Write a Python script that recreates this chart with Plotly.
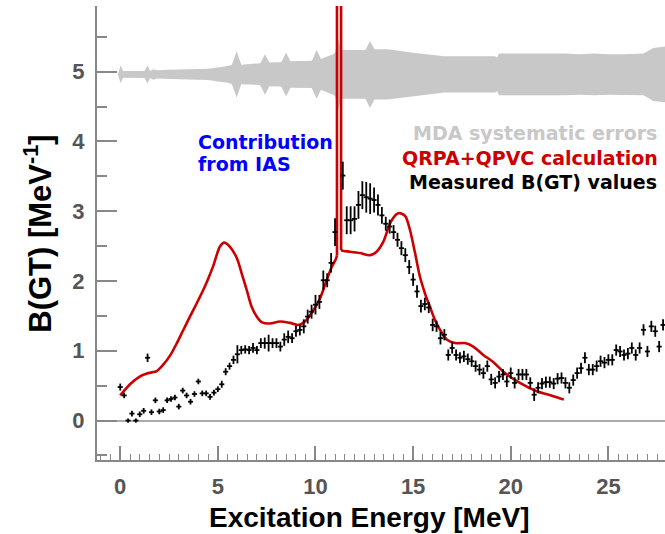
import plotly.graph_objects as go
import numpy as np

# ---------------- data ----------------
meas_E = [0.0, 0.2, 0.4, 0.6, 0.8, 1.0, 1.2, 1.4, 1.6, 1.8,
          2.0, 2.2, 2.4, 2.6, 2.8, 3.0, 3.2, 3.4, 3.6, 3.8,
          4.0, 4.2, 4.4, 4.6, 4.8, 5.0, 5.2, 5.4, 5.6, 5.8,
          6.0, 6.2, 6.4, 6.6, 6.8, 7.0, 7.2, 7.4, 7.6, 7.8,
          8.0, 8.2, 8.4, 8.6, 8.8, 9.0, 9.2, 9.4, 9.6, 9.8,
          10.0, 10.2, 10.4, 10.6, 10.8, 11.0, 11.4, 11.6, 11.8,
          12.0, 12.2, 12.4, 12.6, 12.8, 13.0, 13.2, 13.4, 13.6, 13.8,
          14.0, 14.2, 14.4, 14.6, 14.8, 15.0, 15.2, 15.4, 15.6, 15.8,
          16.0, 16.2, 16.4, 16.6, 16.8, 17.0, 17.2, 17.4, 17.6, 17.8,
          18.0, 18.2, 18.4, 18.6, 18.8, 19.0, 19.2, 19.4, 19.6, 19.8,
          20.0, 20.2, 20.4, 20.6, 20.8, 21.0, 21.2, 21.4, 21.6, 21.8,
          22.0, 22.2, 22.4, 22.6, 22.8, 23.0, 23.2, 23.4, 23.6, 23.8,
          24.0, 24.2, 24.4, 24.6, 24.8, 25.0, 25.2, 25.4, 25.6, 25.8,
          26.0, 26.2, 26.4, 26.6, 26.8, 27.0, 27.2, 27.4, 27.6, 27.8]
meas_B = [0.48, 0.36, 0.00, 0.10, 0.00, 0.09, 0.14, 0.90, 0.12, 0.29,
          0.13, 0.15, 0.29, 0.31, 0.33, 0.20, 0.43, 0.36, 0.27, 0.38,
          0.56, 0.39, 0.39, 0.34, 0.40, 0.45, 0.52, 0.70, 0.78, 0.87,
          0.95, 1.01, 1.02, 1.01, 1.04, 1.01, 1.11, 1.11, 1.11, 1.11,
          1.11, 1.06, 1.16, 1.20, 1.18, 1.28, 1.30, 1.35, 1.49, 1.56,
          1.66, 1.70, 2.01, 2.01, 2.26, 2.70, 3.51, 2.87, 2.87,
          2.89, 3.09, 3.23, 3.20, 3.18, 3.16, 3.09, 2.94, 2.82, 2.78,
          2.70, 2.59, 2.47, 2.37, 2.20, 2.02, 1.85, 1.64, 1.67, 1.62,
          1.37, 1.35, 1.18, 1.23, 0.94, 1.04, 0.94, 0.90, 0.92, 0.88,
          0.85, 0.78, 0.73, 0.68, 0.78, 0.59, 0.54, 0.63, 0.66, 0.56,
          0.68, 0.54, 0.66, 0.66, 0.66, 0.54, 0.37, 0.47, 0.53, 0.55,
          0.55, 0.53, 0.60, 0.61, 0.54, 0.47, 0.58, 0.68, 0.75, 0.90,
          0.73, 0.73, 0.78, 0.85, 0.83, 0.87, 0.87, 1.01, 0.99, 0.94,
          0.96, 1.04, 0.94, 1.04, 1.30, 0.99, 1.35, 1.28, 1.06, 1.37]
meas_err = [0.05, 0.04, 0.03, 0.04, 0.03, 0.04, 0.04, 0.06, 0.04, 0.04,
            0.04, 0.04, 0.04, 0.04, 0.04, 0.04, 0.04, 0.04, 0.04, 0.04,
            0.04, 0.04, 0.04, 0.04, 0.04, 0.04, 0.05, 0.05, 0.05, 0.06,
            0.13, 0.06, 0.06, 0.06, 0.07, 0.06, 0.07, 0.08, 0.12, 0.07,
            0.07, 0.07, 0.09, 0.09, 0.07, 0.08, 0.08, 0.10, 0.10, 0.10,
            0.14, 0.10, 0.14, 0.10, 0.14, 0.20, 0.20, 0.20, 0.20,
            0.18, 0.20, 0.20, 0.22, 0.22, 0.18, 0.15, 0.12, 0.10, 0.10,
            0.10, 0.10, 0.10, 0.10, 0.10, 0.09, 0.09, 0.09, 0.09, 0.08,
            0.09, 0.08, 0.09, 0.08, 0.08, 0.08, 0.08, 0.08, 0.08, 0.08,
            0.08, 0.08, 0.08, 0.08, 0.08, 0.08, 0.08, 0.08, 0.08, 0.08,
            0.08, 0.08, 0.08, 0.08, 0.08, 0.08, 0.09, 0.08, 0.08, 0.08,
            0.08, 0.08, 0.08, 0.08, 0.08, 0.08, 0.08, 0.08, 0.08, 0.08,
            0.08, 0.08, 0.08, 0.08, 0.08, 0.08, 0.08, 0.08, 0.08, 0.08,
            0.08, 0.08, 0.08, 0.08, 0.08, 0.08, 0.08, 0.08, 0.08, 0.08]

qrpa_E = [0.0, 0.5, 1.0, 1.45, 1.87, 2.2, 2.55, 2.9, 3.2, 3.57,
          3.9, 4.25, 4.5, 4.77, 5.1, 5.33, 5.62, 5.97, 6.22, 6.48,
          6.73, 6.99, 7.24, 7.67, 8.18, 8.69, 9.12, 9.46, 9.8, 10.23,
          10.57, 10.83, 11.02, 11.10, 11.10, 11.31, 11.31, 11.45, 11.77, 12.28,
          12.79, 13.13, 13.47, 13.81, 14.05, 14.24, 14.45, 14.62, 14.84, 15.1,
          15.35, 15.61, 15.86, 16.12, 16.38, 16.72, 17.14, 17.65, 18.08, 18.59,
          19.1, 19.62, 20.47, 21.33, 22.18, 22.72]
qrpa_B = [0.36, 0.52, 0.63, 0.68, 0.71, 0.80, 0.93, 1.11, 1.28, 1.49,
          1.67, 1.87, 2.03, 2.22, 2.49, 2.55, 2.49, 2.33, 2.11, 1.87,
          1.63, 1.49, 1.41, 1.39, 1.42, 1.40, 1.37, 1.42, 1.54, 1.75,
          2.01, 2.20, 2.30, 2.36, 30.0, 30.0, 2.44, 2.43, 2.42, 2.40,
          2.37, 2.42, 2.56, 2.82, 2.93, 2.97, 2.96, 2.92, 2.73, 2.40,
          2.06, 1.82, 1.63, 1.44, 1.30, 1.16, 1.11, 1.11, 1.06, 0.94,
          0.84, 0.70, 0.54, 0.42, 0.35, 0.30]
ias_first, ias_last = 33, 36   # indices bounding the narrow IAS spike

band_center = 4.96
band_E = [-0.12, 0.02, 0.15, 1.25, 1.39, 1.53, 1.7, 1.85, 2.5, 3.2,
          3.9, 4.5, 5.0, 5.5, 5.72, 5.96, 6.2, 7.0, 7.18, 7.41,
          7.64, 8.2, 8.26, 8.49, 8.72, 9.8, 9.84, 10.06, 10.28, 10.9,
          11.0, 11.17, 11.32, 12.4, 12.56, 12.79, 13.02, 13.7, 15.0, 16.6,
          19.2, 19.3, 19.4, 22.8, 23.5, 24.3, 25.0, 25.8, 26.8, 27.3, 27.95]
band_hw = [0.0, 0.127, 0.048, 0.05, 0.127, 0.05, 0.075, 0.06, 0.065, 0.072,
           0.075, 0.08, 0.10, 0.12, 0.14, 0.33, 0.14, 0.15, 0.16, 0.29,
           0.17, 0.175, 0.18, 0.315, 0.19, 0.195, 0.21, 0.35, 0.22, 0.29,
           0.31, 0.50, 0.35, 0.35, 0.35, 0.48, 0.36, 0.36, 0.31, 0.26,
           0.26, 0.24, 0.30, 0.30, 0.29, 0.30, 0.29, 0.29, 0.30, 0.38, 0.40]

x_ticks = [0, 5, 10, 15, 20, 25]
y_ticks = [0, 1, 2, 3, 4, 5]

# ---------------- figure ----------------
W, H = 665, 534
L, R, T, B = 97, 0, 6, 73.5
pw, ph = W - L - R, H - T - B


def px(xp):
    return (xp - L) / pw


def py(yp):
    return (H - B - yp) / ph


fig = go.Figure()

be = np.array(band_E)
bh = np.array(band_hw)
fig.add_trace(go.Scatter(
    x=np.concatenate([be, be[::-1]]),
    y=np.concatenate([band_center + bh, (band_center - bh)[::-1]]),
    fill='toself', fillcolor='#c8c8c8', line=dict(width=0, color='#c8c8c8'),
    mode='lines', hoverinfo='skip', showlegend=False))

red = dict(color='#cc0000', width=2.6)
segments = [
    (0, ias_first + 1, 'spline'),
    (ias_first, ias_last + 1, 'linear'),
    (ias_last, len(qrpa_E), 'spline'),
]
for a, b, shape in segments:
    fig.add_trace(go.Scatter(
        x=qrpa_E[a:b], y=qrpa_B[a:b], mode='lines',
        line=dict(red, shape=shape, smoothing=0.8) if shape == 'spline' else dict(red, shape=shape),
        showlegend=False, hoverinfo='skip'))

fig.add_trace(go.Scatter(
    x=meas_E, y=meas_B, mode='markers',
    marker=dict(color='black', size=1),
    error_y=dict(type='data', array=meas_err, width=0, thickness=1.8, color='black'),
    error_x=dict(type='constant', value=0.13, width=0, thickness=1.8, color='black'),
    showlegend=False))

tickfont = dict(family='Liberation Sans', size=22, color='#555555', weight='bold')

fig.update_layout(
    width=W, height=H,
    margin=dict(l=L, r=R, t=T, b=B),
    paper_bgcolor='white', plot_bgcolor='white',
    xaxis=dict(range=[-1.19, 27.9], tickvals=x_ticks, ticks='inside', ticklen=14,
               tickwidth=1.5, tickcolor='#888888', showline=True, linecolor='#888888',
               linewidth=2, showgrid=False, zeroline=False, tickfont=tickfont,
               ticklabelstandoff=6,
               minor=dict(dtick=0.5, ticks='inside', ticklen=6, tickwidth=1,
                          tickcolor='#888888', showgrid=False)),
    yaxis=dict(range=[-0.565, 5.94], tickvals=y_ticks, ticks='inside', ticklen=20,
               tickwidth=1.5, tickcolor='#888888', showline=True, linecolor='#888888',
               linewidth=2, showgrid=False, zeroline=True, zerolinecolor='#aaaaaa',
               zerolinewidth=2, tickfont=tickfont, ticklabelstandoff=6,
               minor=dict(dtick=0.5, ticks='inside', ticklen=10, tickwidth=1.5,
                          tickcolor='#888888', showgrid=False)),
)

tf = dict(family='DejaVu Sans', size=19, weight='bold')
ann = [
    dict(text='MDA systematic errors', x=px(659), y=py(133.3), xanchor='right',
         font=dict(tf, color='#c8c8c8')),
    dict(text='QRPA+QPVC calculation', x=px(660), y=py(158.3), xanchor='right',
         font=dict(tf, color='#cc0000')),
    dict(text='Measured B(GT) values', x=px(659), y=py(181.7), xanchor='right',
         font=dict(tf, color='black')),
    dict(text='Contribution', x=px(196), y=py(141.7), xanchor='left',
         font=dict(tf, color='#0000ff')),
    dict(text='from IAS', x=px(196), y=py(164), xanchor='left',
         font=dict(tf, color='#0000ff')),
    dict(text='Excitation Energy [MeV]', x=px(369), y=py(518), xanchor='center',
         font=dict(family='Liberation Sans', size=28, weight='bold', color='black')),
    dict(text='B(GT) [MeV<sup>-1</sup>]', x=px(38), y=py(234), xanchor='center',
         textangle=-90,
         font=dict(family='Liberation Sans', size=31, weight='bold', color='black')),
]
for a in ann:
    a.update(xref='paper', yref='paper', yanchor='middle', showarrow=False)
fig.update_layout(annotations=ann)

fig.write_html('out.html', config={'displayModeBar': False},
               post_script="document.body.style.margin='0px';")
